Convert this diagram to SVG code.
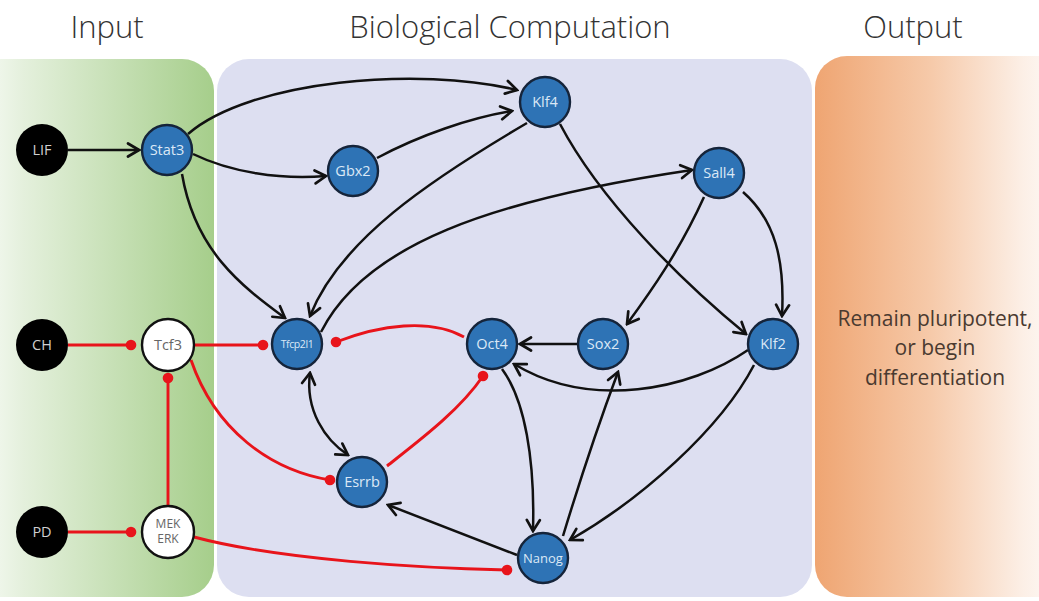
<svg xmlns="http://www.w3.org/2000/svg" width="1039" height="601" viewBox="0 0 1039 601">
  <defs>
    <linearGradient id="gInput" x1="0" y1="0" x2="1" y2="0">
      <stop offset="0" stop-color="#ffffff"/>
      <stop offset="0.25" stop-color="#e4f0dc"/>
      <stop offset="1" stop-color="#a6ce8b"/>
    </linearGradient>
    <linearGradient id="gOutput" x1="0" y1="0" x2="1" y2="0">
      <stop offset="0" stop-color="#efa572"/>
      <stop offset="0.45" stop-color="#f6caaa"/>
      <stop offset="0.8" stop-color="#fcefe6"/>
      <stop offset="1" stop-color="#ffffff"/>
    </linearGradient>
    <marker id="arrow" viewBox="-13 -9 15 18" refX="0" refY="0" markerWidth="15" markerHeight="18" markerUnits="userSpaceOnUse" orient="auto-start-reverse">
      <path d="M-11,-6.5 L0,0 L-11,6.5" fill="none" stroke="#111" stroke-width="2.7" stroke-linejoin="miter" stroke-linecap="round"/>
    </marker>
    <marker id="dot" viewBox="-6 -6 12 12" refX="0" refY="0" markerWidth="12" markerHeight="12" markerUnits="userSpaceOnUse">
      <circle r="5.3" fill="#e8141b"/>
    </marker>
  </defs>
  <style>
    .title { font-family: "Open Sans", "Liberation Sans", sans-serif; font-weight: 300; font-size: 31px; fill: #333; text-anchor: middle; }
    .act { fill: none; stroke: #111; stroke-width: 2.5; marker-end: url(#arrow); }
    .inh { fill: none; stroke: #e8141b; stroke-width: 2.9; marker-end: url(#dot); }
    .gene circle { fill: #2e73b5; stroke: #15243a; stroke-width: 2.4; }
    .gene text { fill: #dbe8f6; }
    .drug circle { fill: #000; }
    .drug text { fill: #d0d0d0; }
    .sig circle { fill: #fff; stroke: #111; stroke-width: 2.4; }
    .sig text { fill: #666; }
    text { font-family: "Open Sans", "Liberation Sans", sans-serif; font-size: 14.5px; text-anchor: middle; }
    .out { font-size: 21px; fill: #4a3a30; }
  </style>

  <!-- panels -->
  <rect x="-40" y="59" width="254" height="538" rx="32" fill="url(#gInput)"/>
  <rect x="217" y="59" width="595" height="538" rx="32" fill="#dddff1"/>
  <rect x="815" y="56" width="260" height="541" rx="32" fill="url(#gOutput)"/>

  <!-- panel titles -->
  <text class="title" x="107" y="38">Input</text>
  <text class="title" x="510" y="38">Biological Computation</text>
  <text class="title" x="913" y="38">Output</text>

  <text class="out" x="935" y="326">Remain pluripotent,</text>
  <text class="out" x="935" y="355">or begin</text>
  <text class="out" x="935" y="385">differentiation</text>

  <!-- connectors -->
  <g id="connectors">
    <path class="act" d="M68,150 L139,150"/>
    <path class="act" d="M188,134 C250,80 420,66 517,90"/>
    <path class="act" d="M193,154 C230,172 280,180 326,176"/>
    <path class="act" d="M377,158 C420,135 470,118 512,111"/>
    <path class="act" d="M182,174 C195,250 240,285 285,318"/>
    <path class="act" d="M527,123 C430,180 340,240 310,316"/>
    <path class="act" d="M321,332 C365,245 490,200 692,170"/>
    <path class="act" d="M560,124 C600,200 680,280 746,334"/>
    <path class="act" d="M704,197 C680,250 652,290 627,324"/>
    <path class="act" d="M743,192 C775,220 785,260 782,316"/>
    <path class="act" d="M577,344 L520,344"/>
    <path class="act" d="M748,350 C690,390 590,410 514,364"/>
    <path class="act" d="M754,365 C720,430 640,500 570,540"/>
    <path class="act" d="M502,369 C525,400 535,460 533,531"/>
    <path class="act" d="M563,536 C580,480 600,420 618,372"/>
    <path class="act" d="M517,555 L388,505"/>
    <path class="act" d="M310,373 C305,410 325,440 348,455" marker-start="url(#arrow)"/>

    <path class="inh" d="M68,345 L131,345"/>
    <path class="inh" d="M68,532 L131,532"/>
    <path class="inh" d="M168,506 L168,378"/>
    <path class="inh" d="M194,345 L263,345"/>
    <path class="inh" d="M191,360 C215,430 270,470 330,480"/>
    <path class="inh" d="M194,537 C280,560 420,568 507,570"/>
    <path class="inh" d="M464,337 C430,318 380,325 336,342"/>
    <path class="inh" d="M387,466 C420,440 460,410 483,376"/>
  </g>

  <!-- input molecules -->
  <g id="LIF" class="drug"><circle cx="42" cy="150" r="26"/><text x="42" y="155">LIF</text></g>
  <g id="CH" class="drug"><circle cx="42" cy="345" r="26"/><text x="42" y="350">CH</text></g>
  <g id="PD" class="drug"><circle cx="42" cy="532" r="26"/><text x="42" y="537">PD</text></g>

  <!-- signalling -->
  <g id="Tcf3" class="sig"><circle cx="168" cy="345" r="26"/><text x="168" y="350">Tcf3</text></g>
  <g id="MEKERK" class="sig"><circle cx="168" cy="532" r="26"/><text x="168" y="528" style="font-size:12px">MEK</text><text x="168" y="543" style="font-size:12px">ERK</text></g>

  <!-- network genes -->
  <g id="Stat3" class="gene"><circle cx="167" cy="150" r="25"/><text x="167" y="155">Stat3</text></g>
  <g id="Klf4" class="gene"><circle cx="545" cy="102" r="25"/><text x="545" y="107">Klf4</text></g>
  <g id="Gbx2" class="gene"><circle cx="353" cy="171" r="25"/><text x="353" y="176">Gbx2</text></g>
  <g id="Sall4" class="gene"><circle cx="719" cy="173" r="25"/><text x="719" y="178">Sall4</text></g>
  <g id="Tfcp2l1" class="gene"><circle cx="297" cy="344" r="25"/><text x="297" y="348" style="font-size:10.5px;letter-spacing:-0.4px">Tfcp2l1</text></g>
  <g id="Oct4" class="gene"><circle cx="492" cy="344" r="25"/><text x="492" y="349">Oct4</text></g>
  <g id="Sox2" class="gene"><circle cx="603" cy="344" r="25"/><text x="603" y="349">Sox2</text></g>
  <g id="Klf2" class="gene"><circle cx="773" cy="344" r="25"/><text x="773" y="349">Klf2</text></g>
  <g id="Esrrb" class="gene"><circle cx="362" cy="482" r="25"/><text x="362" y="487">Esrrb</text></g>
  <g id="Nanog" class="gene"><circle cx="543" cy="558" r="25"/><text x="543" y="563" style="font-size:13px">Nanog</text></g>
</svg>
